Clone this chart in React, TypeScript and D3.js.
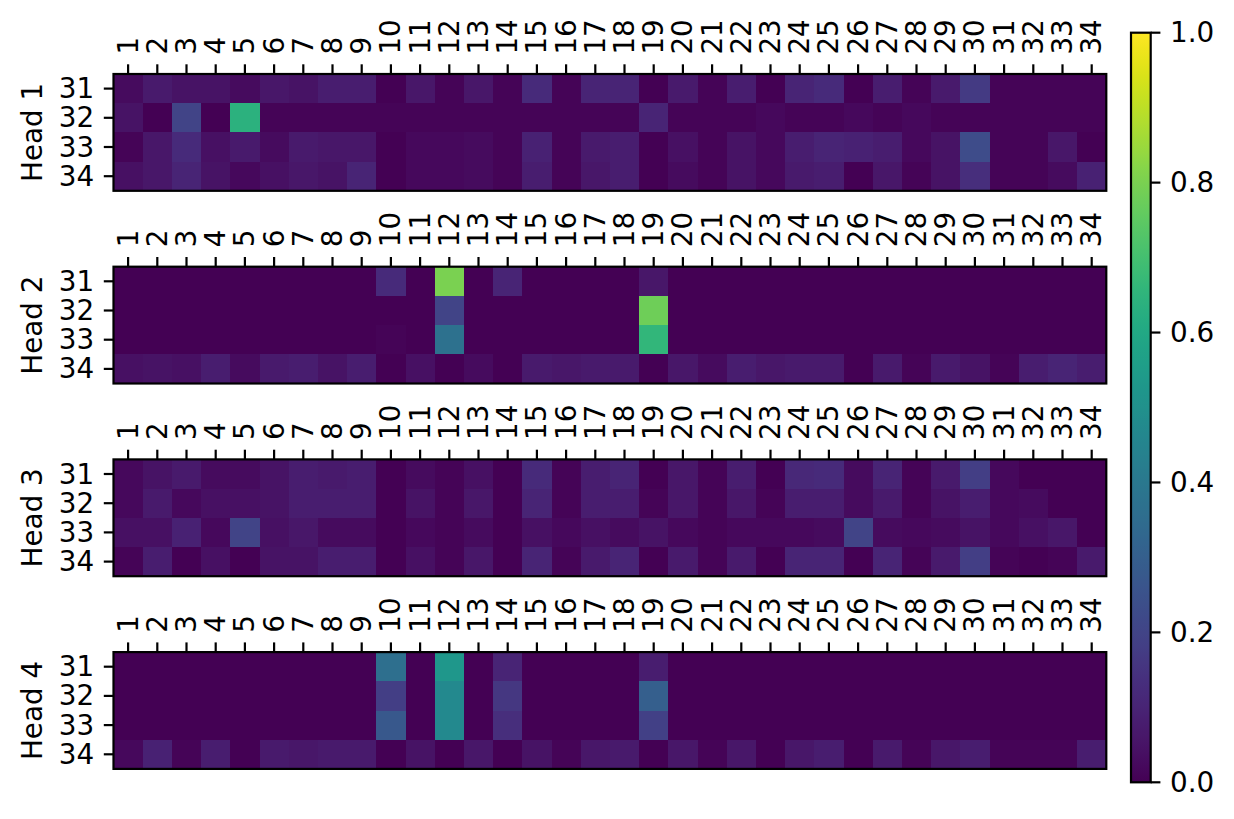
import React from "react";
import * as d3 from "d3";

const columnLabels = ["1","2","3","4","5","6","7","8","9","10","11","12","13","14","15","16","17","18","19","20","21","22","23","24","25","26","27","28","29","30","31","32","33","34"];
const rowLabels = ["31", "32", "33", "34"];
const headNames = ["Head 1", "Head 2", "Head 3", "Head 4"];
const colorTicks = [0, 0.2, 0.4, 0.6, 0.8, 1.0];

const head1 = [
  [0.03,0.07,0.05,0.05,0.03,0.06,0.05,0.08,0.08,0.0,0.06,0.01,0.06,0.01,0.12,0.01,0.1,0.1,0.0,0.07,0.01,0.08,0.0,0.1,0.12,0.0,0.08,0.01,0.07,0.17,0.01,0.01,0.01,0.01],
  [0.05,0.0,0.2,0.0,0.64,0.01,0.01,0.01,0.01,0.01,0.01,0.01,0.01,0.01,0.01,0.01,0.01,0.01,0.1,0.01,0.01,0.01,0.02,0.01,0.01,0.02,0.01,0.02,0.01,0.01,0.01,0.01,0.01,0.01],
  [0.01,0.06,0.12,0.04,0.07,0.03,0.07,0.06,0.06,0.0,0.02,0.02,0.03,0.01,0.09,0.01,0.07,0.08,0.0,0.04,0.01,0.05,0.02,0.08,0.1,0.09,0.08,0.02,0.05,0.23,0.01,0.01,0.06,0.0],
  [0.04,0.06,0.1,0.05,0.02,0.04,0.06,0.05,0.1,0.0,0.02,0.02,0.03,0.01,0.08,0.01,0.06,0.08,0.0,0.03,0.01,0.05,0.02,0.07,0.08,0.0,0.06,0.01,0.05,0.13,0.01,0.01,0.03,0.09],
];

const head2 = [
  [0,0,0,0,0,0,0,0,0,0.12,0,0.8,0,0.1,0,0,0,0,0.06,0,0,0,0,0,0,0,0,0,0,0,0,0,0,0],
  [0,0,0,0,0,0,0,0,0,0,0,0.2,0,0,0,0,0,0,0.78,0,0,0,0,0,0,0,0,0,0,0,0,0,0,0],
  [0,0,0,0,0,0,0,0,0,0.01,0,0.37,0,0,0,0,0,0,0.66,0,0,0,0,0,0,0,0,0,0,0,0,0,0,0],
  [0.04,0.05,0.04,0.08,0.03,0.07,0.08,0.05,0.08,0.0,0.04,0.0,0.03,0.0,0.07,0.06,0.07,0.07,0.0,0.06,0.03,0.08,0.06,0.07,0.07,0.0,0.07,0.01,0.07,0.05,0.01,0.08,0.1,0.08],
];

const head3 = [
  [0.02,0.05,0.07,0.03,0.03,0.05,0.08,0.07,0.08,0.0,0.03,0.01,0.04,0.0,0.12,0.01,0.08,0.1,0.0,0.06,0.01,0.08,0.0,0.11,0.12,0.03,0.1,0.01,0.07,0.18,0.02,0.0,0.0,0.0],
  [0.02,0.07,0.02,0.04,0.04,0.05,0.08,0.08,0.08,0.0,0.05,0.01,0.06,0.0,0.1,0.01,0.08,0.08,0.01,0.06,0.01,0.06,0.01,0.08,0.08,0.03,0.07,0.01,0.05,0.08,0.02,0.03,0.0,0.0],
  [0.04,0.04,0.09,0.02,0.2,0.04,0.06,0.03,0.03,0.0,0.02,0.01,0.03,0.0,0.04,0.02,0.04,0.03,0.05,0.02,0.01,0.02,0.02,0.02,0.03,0.2,0.03,0.02,0.03,0.05,0.02,0.04,0.06,0.0],
  [0.01,0.08,0.0,0.04,0.0,0.05,0.05,0.08,0.08,0.0,0.04,0.01,0.06,0.0,0.1,0.01,0.07,0.1,0.0,0.07,0.01,0.07,0.0,0.1,0.1,0.0,0.1,0.01,0.07,0.18,0.01,0.0,0.01,0.07],
];

const head4 = [
  [0,0,0,0,0,0,0,0,0,0.36,0,0.53,0,0.1,0,0,0,0,0.08,0,0,0,0,0,0,0,0,0,0,0,0,0,0,0],
  [0,0,0,0,0,0,0,0,0,0.18,0,0.47,0,0.16,0,0,0,0,0.3,0,0,0,0,0,0,0,0,0,0,0,0,0,0,0],
  [0,0,0,0,0,0,0,0,0,0.27,0,0.47,0,0.13,0,0,0,0,0.19,0,0,0,0,0,0,0,0,0,0,0,0,0,0,0],
  [0.02,0.09,0.01,0.08,0.0,0.07,0.06,0.07,0.07,0.0,0.05,0.0,0.06,0.0,0.05,0.01,0.06,0.07,0.0,0.06,0.01,0.06,0.0,0.06,0.08,0.0,0.07,0.01,0.06,0.08,0.01,0.01,0.01,0.08],
];

const heads = [head1, head2, head3, head4];

const W = 1234;
const H = 819;
const FONT = "'DejaVu Sans', sans-serif";
const FS = 27.8;
const TICK = 9.7;
const PAD = 9.7;
const LW = 2.2;

const plotLeft = 113.5;
const plotRight = 1106.3;
const firstTop = 74;
const panelStep = 192.7;
const plotHeight = 116.8;

const cbLeft = 1131;
const cbRight = 1150.7;
const cbTop = 32.7;
const cbBottom = 782.3;

const color = d3.scaleSequential(d3.interpolateViridis).domain([0, 1]);
const x = d3.scaleBand<string>().domain(columnLabels).range([plotLeft, plotRight]).paddingInner(0).paddingOuter(0);
const cbScale = d3.scaleLinear().domain([0, 1]).range([cbBottom, cbTop]);

function Panel({ data, name, index }: { data: number[][]; name: string; index: number }) {
  const top = firstTop + index * panelStep;
  const y = d3.scaleBand<string>().domain(rowLabels).range([top, top + plotHeight]).padding(0);
  const bw = x.bandwidth();
  const bh = y.bandwidth();
  return (
    <g>
      <g shapeRendering="crispEdges">
        {data.map((row, ri) =>
          row.map((v, ci) => (
            <rect
              key={`${ri}-${ci}`}
              x={x(columnLabels[ci])!}
              y={y(rowLabels[ri])!}
              width={bw + 0.6}
              height={bh + 0.6}
              fill={color(v)}
            />
          ))
        )}
      </g>
      <rect x={plotLeft} y={top} width={plotRight - plotLeft} height={plotHeight} fill="none" stroke="#000" strokeWidth={LW} />
      {columnLabels.map((c) => {
        const cx = x(c)! + bw / 2;
        return (
          <g key={c}>
            <line x1={cx} x2={cx} y1={top} y2={top - TICK} stroke="#000" strokeWidth={LW} />
            <text
              transform={`translate(${cx},${top - TICK - PAD}) rotate(-90)`}
              textAnchor="start"
              dominantBaseline="central"
              fontSize={FS}
              fontFamily={FONT}
              fill="#000"
            >
              {c}
            </text>
          </g>
        );
      })}
      {rowLabels.map((r) => {
        const cy = y(r)! + bh / 2;
        return (
          <g key={r}>
            <line x1={plotLeft} x2={plotLeft - TICK} y1={cy} y2={cy} stroke="#000" strokeWidth={LW} />
            <text
              x={plotLeft - TICK - PAD}
              y={cy}
              textAnchor="end"
              dominantBaseline="central"
              fontSize={FS}
              fontFamily={FONT}
              fill="#000"
            >
              {r}
            </text>
          </g>
        );
      })}
      <text
        transform={`translate(42.4,${top + plotHeight / 2}) rotate(-90)`}
        textAnchor="middle"
        fontSize={FS}
        fontFamily={FONT}
        fill="#000"
      >
        {name}
      </text>
    </g>
  );
}

export default function App() {
  const stops = d3.range(0, 1.0001, 0.02);
  return (
    <svg
      width={W}
      height={H}
      viewBox={`0 0 ${W} ${H}`}
      style={{ position: "absolute", left: 0, top: 0, background: "#fff" }}
    >
      <rect x={0} y={0} width={W} height={H} fill="#fff" />
      <defs>
        <linearGradient id="cbgrad" x1="0" y1="1" x2="0" y2="0">
          {stops.map((s) => (
            <stop key={s} offset={s} stopColor={color(s)} />
          ))}
        </linearGradient>
      </defs>
      {heads.map((d, i) => (
        <Panel key={i} data={d} name={headNames[i]} index={i} />
      ))}
      <rect x={cbLeft} y={cbTop} width={cbRight - cbLeft} height={cbBottom - cbTop} fill="url(#cbgrad)" stroke="#000" strokeWidth={LW} />
      {colorTicks.map((t) => (
        <g key={t}>
          <line x1={cbRight} x2={cbRight + TICK} y1={cbScale(t)} y2={cbScale(t)} stroke="#000" strokeWidth={LW} />
          <text
            x={cbRight + TICK + PAD}
            y={cbScale(t)}
            textAnchor="start"
            dominantBaseline="central"
            fontSize={FS}
            fontFamily={FONT}
            fill="#000"
          >
            {t.toFixed(1)}
          </text>
        </g>
      ))}
    </svg>
  );
}
